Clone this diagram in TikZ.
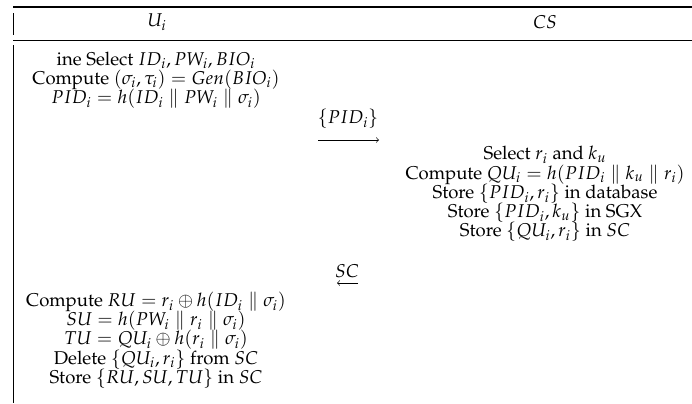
\documentclass[tikz,border=0pt]{standalone}
\usepackage[T1]{fontenc}
\usepackage{amsmath}
\usepackage{mathpazo}
\usepackage{tikz}

% even line spacing inside the multi-line nodes
\newcommand{\tightlines}{\fontsize{11.7}{12.15}\selectfont\lineskiplimit=-6pt\relax}

\begin{document}
\begin{tikzpicture}[x=0.6316pt,y=-0.6316pt,
    every node/.style={font=\tightlines},
    block/.style={align=center,inner sep=0pt},
    msg/.style={inner sep=1pt}]
    \useasboundingbox (0,0) rectangle (692,403);

    % table rules
    \draw[line width=0.8pt] (13,7) -- (692,7);
    \draw[line width=0.5pt] (13,40) -- (692,40);
    \draw (13,13) -- (13,35);
    \draw (13,45) -- (13,403);

    % header
    \node (Ui) at (157,22) {$U_i$};
    \node (CS) at (545,22) {$CS$};

    % user side, first step
    \node[block] (Ureg) at (156,80) {ine Select $ID_i, PW_i, BIO_i$\\
        Compute $(\sigma_i, \tau_i) = Gen(BIO_i)$\\
        $PID_i = h(ID_i \parallel PW_i \parallel \sigma_i)$};

    % message to the server
    \node[msg] (PIDmsg) at (348,119) {$\{PID_i\}$};
    \coordinate (PIDa) at (318,140);
    \coordinate (PIDb) at (379,140);
    \path [->](PIDa) edge (PIDb);

    % server side
    \node[block] (Sreg) at (545,194) {Select $r_i$ and $k_u$\\
        Compute $QU_i = h(PID_i \parallel k_u \parallel r_i)$\\
        Store $\{PID_i, r_i\}$ in database\\
        Store $\{PID_i, k_u\}$ in SGX\\
        Store $\{QU_i, r_i\}$ in $SC$};

    % smart card back to the user
    \node[msg] (SCmsg) at (347,271) {$SC$};
    \coordinate (SCa) at (358,283);
    \coordinate (SCb) at (337,283);
    \path [->](SCa) edge (SCb);

    % user side, second step
    \node[block] (Ustore) at (156,340) {Compute $RU = r_i \oplus h(ID_i \parallel \sigma_i)$\\
        $SU = h(PW_i \parallel r_i \parallel \sigma_i)$\\
        $TU = QU_i \oplus h(r_i \parallel \sigma_i)$\\
        Delete $\{QU_i, r_i\}$ from $SC$\\
        Store $\{RU, SU, TU\}$ in $SC$};
\end{tikzpicture}
\end{document}
